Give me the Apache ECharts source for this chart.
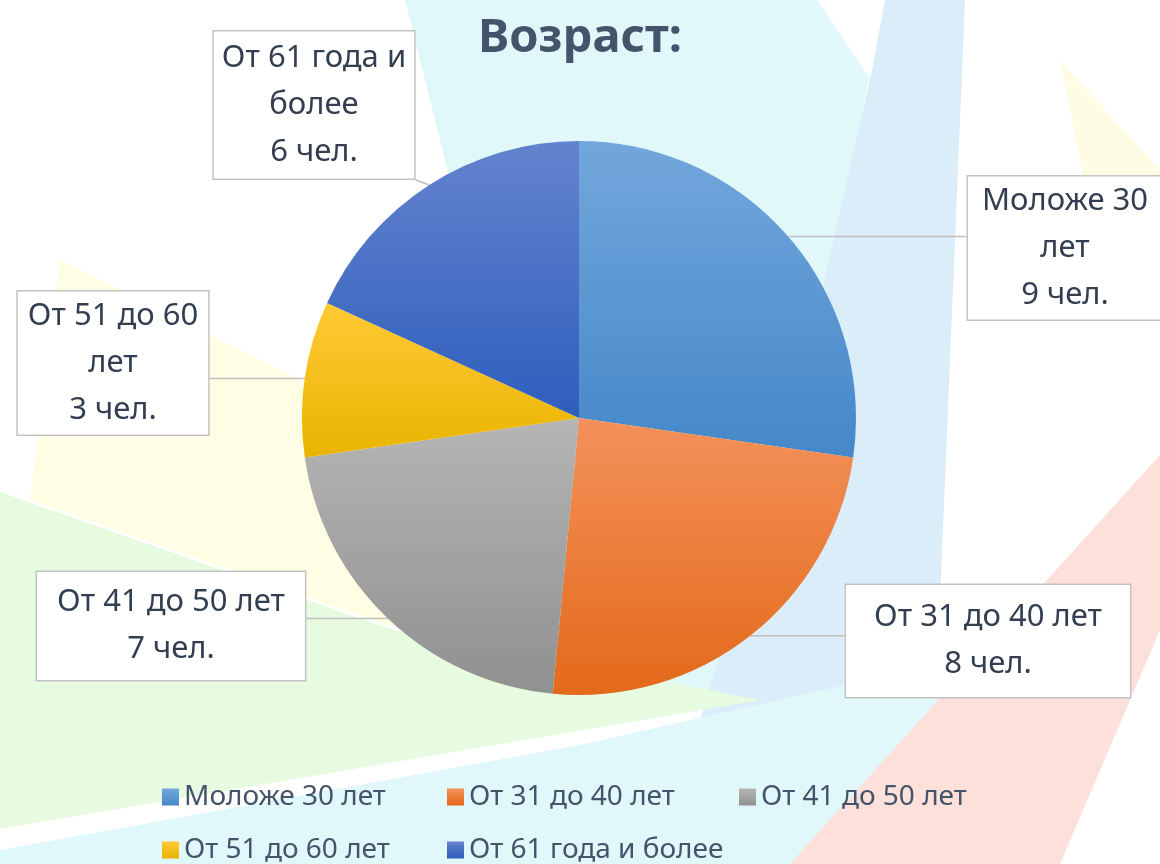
<!DOCTYPE html>
<html>
<head>
<meta charset="utf-8">
<script src="https://cdn.jsdelivr.net/npm/echarts@6/dist/echarts.min.js"></script>
<style>
  html, body { margin: 0; padding: 0; background: #fff; }
  #chart { width: 1160px; height: 864px; }
</style>
</head>
<body>
<div id="chart"></div>
<script>
// data
const categories = ["Моложе 30 лет", "От 31 до 40 лет", "От 41 до 50 лет", "От 51 до 60 лет", "От 61 года и более"];
const counts = [9, 8, 7, 3, 6];
const labelNames = ["Моложе 30\nлет", "От 31 до 40 лет", "От 41 до 50 лет", "От 51 до 60\nлет", "От 61 года и\nболее"];
const unit = "чел.";

// slice colours, top -> bottom of gradient
const SLICE_COLORS = [
  ["#72a7dc", "#4587c8"],
  ["#f3915a", "#e4691a"],
  ["#b5b5b5", "#909090"],
  ["#ffca35", "#e9b400"],
  ["#6483ce", "#2e5ebd"],
];

// callout box centres (px) and paddings
const LABEL_POS = [
  [1065, 248],
  [988, 641],
  [171, 626],
  [113, 363],
  [314, 105],
];
const LABEL_PAD = [
  [1, 14],
  [9, 28],
  [7, 20],
  [1, 10],
  [3, 8],
];

// legend entries laid out in an Excel-like grid (left, top)
const LEGEND_POS = [
  [162, 783],
  [447, 783],
  [739, 783],
  [162, 836],
  [447, 836],
];

const chart = echarts.init(document.getElementById("chart"));

const grad = (c) =>
  new echarts.graphic.LinearGradient(0, 0, 0, 1, [
    { offset: 0, color: c[0] },
    { offset: 1, color: c[1] },
  ]);

const bg = (points, fill) => ({
  type: "polygon",
  z: -10,
  silent: true,
  shape: { points },
  style: { fill },
});

const textStyleBase = { fontFamily: "'Noto Sans', 'Open Sans', sans-serif" };

chart.setOption({
  textStyle: textStyleBase,
  graphic: {
    elements: [
      bg([[405, 0], [817, 0], [869, 77], [800, 440], [760, 700], [480, 700], [455, 200]], "#e0f8fa"),
      bg([[885, 0], [965, 0], [940, 600], [880, 690], [700, 720], [790, 432], [872, 70]], "#dbedf8"),
      bg([[60, 260], [300, 380], [430, 640], [30, 500]], "#fffde4"),
      bg([[0, 492], [390, 629], [760, 700], [0, 829]], "#e6fbe0"),
      bg([[0, 864], [0, 850], [580, 745], [1000, 650], [790, 864]], "#e0f8fa"),
      bg([[790, 864], [1160, 455], [1160, 630], [1060, 864]], "#fde0da"),
      bg([[1060, 60], [1160, 170], [1160, 270], [1090, 210]], "#fffce6"),
    ],
  },
  title: {
    text: "Возраст:",
    left: "center",
    top: 10,
    textStyle: { ...textStyleBase, fontSize: 47, fontWeight: "bold", color: "#44546a" },
  },
  legend: categories.map((name, i) => ({
    left: LEGEND_POS[i][0],
    top: LEGEND_POS[i][1],
    padding: 0,
    itemWidth: 17,
    itemHeight: 17,
    icon: "rect",
    data: [name],
    textStyle: { ...textStyleBase, fontSize: 28, color: "#44546a" },
  })),
  series: [
    {
      type: "pie",
      center: [579, 418],
      radius: 277,
      startAngle: 90,
      clockwise: true,
      animation: false,
      data: categories.map((name, i) => ({
        name,
        value: counts[i],
        itemStyle: { color: grad(SLICE_COLORS[i]) },
        label: { padding: LABEL_PAD[i] },
      })),
      label: {
        show: true,
        formatter: (p) => labelNames[p.dataIndex] + "\n" + p.value + " " + unit,
        ...textStyleBase,
        fontSize: 31,
        lineHeight: 47,
        color: "#333f50",
        align: "center",
        backgroundColor: "#ffffff",
        borderColor: "#c3c3c3",
        borderWidth: 1.5,
      },
      labelLine: {
        show: true,
        length: 20,
        length2: 20,
        lineStyle: { color: "#bfbfbf", width: 1.5 },
      },
      labelLayout: (params) => {
        const p = LABEL_POS[params.dataIndex];
        const r = params.labelRect;
        const start = params.labelLinePoints[0];
        const x0 = p[0] - r.width / 2, x1 = p[0] + r.width / 2;
        const y0 = p[1] - r.height / 2, y1 = p[1] + r.height / 2;
        const end = [
          Math.min(Math.max(start[0], x0), x1),
          Math.min(Math.max(start[1], y0), y1),
        ];
        const mid = [(start[0] + end[0]) / 2, (start[1] + end[1]) / 2];
        return {
          x: p[0],
          y: p[1],
          align: "center",
          verticalAlign: "middle",
          labelLinePoints: [start, mid, end],
        };
      },
    },
  ],
});

window.addEventListener("resize", () => chart.resize());
</script>
</body>
</html>
